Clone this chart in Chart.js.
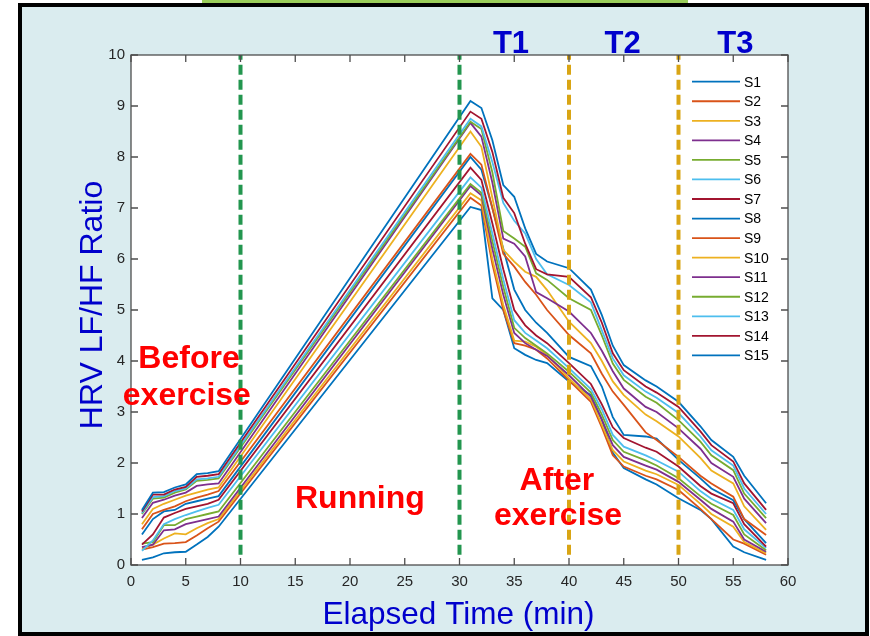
<!DOCTYPE html>
<html>
<head>
<meta charset="utf-8">
<script src="https://cdn.jsdelivr.net/npm/chart.js@4.4.1/dist/chart.umd.min.js"></script>
<style>
  html, body { margin: 0; padding: 0; background: #fff; }
  #wrap { position: relative; width: 870px; height: 636px; overflow: hidden; }
  #bar { position: absolute; left: 202px; top: 0; width: 486px; height: 3px; background: #9acd5a; }
  #frame { position: absolute; left: 18px; top: 3px; width: 851px; height: 633px; box-sizing: border-box;
           border: 4px solid #000; background: #daecef; }
  canvas { position: absolute; left: 0; top: 0; }
</style>
</head>
<body>
<div id="wrap">
  <div id="bar"></div>
  <div id="frame"></div>
  <canvas id="hrv" width="870" height="636"></canvas>
</div>
<script>
// elapsed minutes where each subject was sampled
const minutes = [1, 2, 3, 4, 5, 6, 7, 8,
  31, 32, 33, 34, 35, 36, 37, 38, 40, 42, 43, 44, 45, 47, 48, 50, 52, 53, 55, 56, 58];

// LF/HF ratio per subject
const S1  = [0.10, 0.15, 0.23, 0.25, 0.26, 0.40, 0.55, 0.75,
  7.02, 6.96, 5.23, 5.00, 4.25, 4.12, 4.02, 3.96, 3.60, 3.33, 2.85, 2.20, 1.90, 1.68, 1.58, 1.31, 1.08, 0.90, 0.36, 0.25, 0.10];
const S2  = [0.30, 0.35, 0.42, 0.43, 0.45, 0.58, 0.72, 0.85,
  7.20, 7.05, 5.90, 5.00, 4.35, 4.30, 4.22, 4.05, 3.62, 3.20, 2.70, 2.15, 1.93, 1.75, 1.68, 1.47, 1.10, 0.90, 0.50, 0.42, 0.20];
const S3  = [0.32, 0.40, 0.52, 0.62, 0.60, 0.72, 0.82, 0.90,
  7.29, 7.15, 6.00, 5.10, 4.40, 4.38, 4.28, 4.12, 3.66, 3.25, 2.75, 2.25, 2.03, 1.85, 1.78, 1.57, 1.20, 1.00, 0.75, 0.45, 0.23];
const S4  = [0.35, 0.40, 0.68, 0.70, 0.80, 0.85, 0.90, 0.95,
  7.43, 7.25, 6.20, 5.30, 4.55, 4.35, 4.22, 4.10, 3.72, 3.30, 2.85, 2.35, 2.12, 1.95, 1.87, 1.63, 1.28, 1.10, 0.85, 0.50, 0.26];
const S5  = [0.42, 0.45, 0.78, 0.78, 0.90, 0.95, 1.00, 1.05,
  7.47, 7.30, 6.35, 5.45, 4.65, 4.45, 4.30, 4.15, 3.79, 3.38, 2.95, 2.45, 2.22, 2.05, 1.95, 1.70, 1.35, 1.20, 0.98, 0.60, 0.29];
const S6  = [0.28, 0.48, 0.80, 0.90, 0.98, 1.05, 1.12, 1.18,
  7.60, 7.40, 6.50, 5.60, 4.80, 4.55, 4.40, 4.25, 3.86, 3.45, 3.05, 2.55, 2.32, 2.15, 2.05, 1.83, 1.45, 1.30, 1.08, 0.70, 0.33];
const S7  = [0.40, 0.60, 0.93, 1.02, 1.10, 1.15, 1.20, 1.28,
  7.79, 7.55, 6.70, 5.80, 5.00, 4.70, 4.50, 4.35, 3.96, 3.55, 3.15, 2.70, 2.49, 2.30, 2.22, 1.93, 1.55, 1.40, 1.21, 0.80, 0.36];
const S8  = [0.60, 0.90, 1.05, 1.08, 1.20, 1.25, 1.30, 1.35,
  8.00, 7.75, 7.00, 6.20, 5.40, 5.00, 4.75, 4.55, 4.08, 3.90, 3.50, 2.90, 2.55, 2.52, 2.48, 2.06, 1.70, 1.50, 1.27, 0.90, 0.43];
const S9  = [0.70, 1.00, 1.08, 1.15, 1.25, 1.32, 1.38, 1.45,
  8.06, 7.85, 7.00, 6.10, 5.85, 5.55, 5.30, 5.00, 4.51, 4.15, 3.75, 3.40, 3.14, 2.60, 2.45, 2.12, 1.75, 1.60, 1.34, 0.90, 0.59];
const S10 = [0.80, 1.10, 1.20, 1.28, 1.36, 1.42, 1.48, 1.52,
  8.50, 8.20, 7.20, 6.18, 5.95, 5.75, 5.65, 5.39, 4.77, 4.35, 4.00, 3.60, 3.33, 2.95, 2.82, 2.52, 2.10, 1.85, 1.60, 1.15, 0.69];
const S11 = [0.92, 1.22, 1.28, 1.36, 1.42, 1.55, 1.58, 1.60,
  8.67, 8.40, 7.50, 6.40, 6.30, 6.05, 5.35, 5.23, 4.97, 4.55, 4.20, 3.80, 3.46, 3.10, 3.00, 2.68, 2.28, 2.00, 1.73, 1.30, 0.82];
const S12 = [1.00, 1.30, 1.32, 1.42, 1.48, 1.65, 1.67, 1.70,
  8.69, 8.55, 7.70, 6.55, 6.40, 6.24, 5.72, 5.59, 5.23, 5.00, 4.50, 3.95, 3.63, 3.30, 3.18, 2.84, 2.42, 2.15, 1.86, 1.40, 0.92];
const S13 = [1.02, 1.33, 1.35, 1.45, 1.50, 1.68, 1.70, 1.73,
  8.75, 8.60, 7.90, 7.10, 6.75, 6.50, 6.00, 5.70, 5.49, 5.15, 4.60, 4.05, 3.72, 3.40, 3.28, 2.98, 2.52, 2.25, 1.95, 1.50, 1.00];
const S14 = [1.05, 1.38, 1.38, 1.48, 1.53, 1.73, 1.75, 1.78,
  8.89, 8.75, 8.10, 7.20, 6.90, 6.30, 5.80, 5.70, 5.65, 5.25, 4.75, 4.15, 3.82, 3.50, 3.38, 3.10, 2.62, 2.35, 2.03, 1.60, 1.08];
const S15 = [1.08, 1.42, 1.43, 1.52, 1.58, 1.78, 1.80, 1.84,
  9.10, 8.96, 8.33, 7.45, 7.22, 6.60, 6.10, 5.95, 5.82, 5.40, 4.90, 4.30, 3.92, 3.62, 3.50, 3.20, 2.72, 2.45, 2.12, 1.75, 1.21];

const subjects = [S1, S2, S3, S4, S5, S6, S7, S8, S9, S10, S11, S12, S13, S14, S15];
const subjectNames = subjects.map((_, i) => "S" + (i + 1));

// phase boundaries (min)
const phaseLines = [10, 30];
const testLines = [40, 50];

const xTicks = [0, 60, 5];
const yTicks = [0, 10, 1];

const palette = ["#0072bd", "#d95319", "#edb120", "#7e2f8e", "#77ac30", "#4dbeee", "#a2142f"];
const FONT = "'Liberation Sans', Arial, sans-serif";

// text notes, anchored in data units
const phaseNotes = [
  { text: "Before", x: 5.3, y: 3.86 },
  { text: "exercise", x: 5.1, y: 3.14 },
  { text: "Running", x: 20.9, y: 1.12 },
  { text: "After", x: 38.9, y: 1.48 },
  { text: "exercise", x: 39.0, y: 0.79 }
];
const testNotes = [
  { text: "T1", x: 34.7, y: 10.04 },
  { text: "T2", x: 44.9, y: 10.04 },
  { text: "T3", x: 55.2, y: 10.04 }
];

const datasets = [];
phaseLines.concat(testLines).forEach(v => {
  datasets.push({
    data: [{ x: v, y: 0.2 }, { x: v, y: 10 }],
    borderColor: phaseLines.includes(v) ? "#23964f" : "#d9a514",
    borderWidth: 4,
    borderDash: [10, 5],
    pointRadius: 0,
    order: 0
  });
});
subjects.forEach((vals, i) => {
  datasets.push({
    label: subjectNames[i],
    data: vals.map((v, k) => ({ x: minutes[k], y: v })),
    borderColor: palette[i % palette.length],
    borderWidth: 1.8,
    pointRadius: 0,
    tension: 0,
    order: 15 - i
  });
});

const decor = {
  id: "decor",
  beforeDraw(chart) {
    const { ctx, chartArea: a } = chart;
    ctx.save();
    ctx.fillStyle = "#fff";
    ctx.fillRect(a.left, a.top, a.right - a.left, a.bottom - a.top);
    ctx.restore();
  },
  afterDraw(chart) {
    const { ctx, chartArea: a, scales: { x, y } } = chart;
    ctx.save();

    // axes box + inward ticks
    ctx.strokeStyle = "#4d4d4d";
    ctx.lineWidth = 1.3;
    ctx.strokeRect(a.left, a.top, a.right - a.left, a.bottom - a.top);
    ctx.beginPath();
    x.ticks.forEach(t => {
      const p = x.getPixelForValue(t.value);
      ctx.moveTo(p, a.bottom); ctx.lineTo(p, a.bottom - 7);
      ctx.moveTo(p, a.top); ctx.lineTo(p, a.top + 7);
    });
    y.ticks.forEach(t => {
      const p = y.getPixelForValue(t.value);
      ctx.moveTo(a.left, p); ctx.lineTo(a.left + 7, p);
      ctx.moveTo(a.right, p); ctx.lineTo(a.right - 7, p);
    });
    ctx.stroke();

    // legend
    ctx.font = "14px " + FONT;
    ctx.textBaseline = "middle";
    ctx.textAlign = "left";
    subjectNames.forEach((name, i) => {
      const ly = a.top + 26.7 + i * 19.55;
      ctx.strokeStyle = palette[i % palette.length];
      ctx.lineWidth = 1.8;
      ctx.beginPath();
      ctx.moveTo(a.right - 96, ly);
      ctx.lineTo(a.right - 48, ly);
      ctx.stroke();
      ctx.fillStyle = "#000";
      ctx.fillText(name, a.right - 44, ly + 1);
    });

    // phase notes
    ctx.textAlign = "center";
    ctx.textBaseline = "alphabetic";
    ctx.font = "bold 32px " + FONT;
    ctx.fillStyle = "#ff0000";
    phaseNotes.forEach(n => ctx.fillText(n.text, x.getPixelForValue(n.x), y.getPixelForValue(n.y)));
    ctx.font = "bold 31px " + FONT;
    ctx.fillStyle = "#0000cc";
    testNotes.forEach(n => ctx.fillText(n.text, x.getPixelForValue(n.x), y.getPixelForValue(n.y)));

    // axis titles
    ctx.fillStyle = "#0000cc";
    ctx.font = "31.5px " + FONT;
    ctx.fillText("Elapsed Time (min)", (a.left + a.right) / 2 - 1, 624);
    ctx.font = "32px " + FONT;
    ctx.translate(102, (a.top + a.bottom) / 2 - 5);
    ctx.rotate(-Math.PI / 2);
    ctx.fillText("HRV LF/HF Ratio", 0, 0);

    ctx.restore();
  }
};

const tickFont = { family: FONT, size: 15 };

new Chart(document.getElementById("hrv"), {
  type: "line",
  data: { datasets },
  options: {
    responsive: false,
    animation: false,
    devicePixelRatio: 1,
    layout: { padding: { left: 91, top: 55, right: 82, bottom: 31 } },
    plugins: { legend: { display: false }, tooltip: { enabled: false } },
    scales: {
      x: {
        type: "linear",
        min: xTicks[0], max: xTicks[1],
        ticks: { stepSize: xTicks[2], color: "#262626", font: tickFont, padding: 8, maxRotation: 0 },
        grid: { display: false, drawTicks: false },
        border: { display: false },
        afterFit(s) { s.height = 40; }
      },
      y: {
        min: yTicks[0], max: yTicks[1],
        ticks: { stepSize: yTicks[2], color: "#262626", font: tickFont, padding: 6 },
        grid: { display: false, drawTicks: false },
        border: { display: false },
        afterFit(s) { s.width = 40; }
      }
    }
  },
  plugins: [decor]
});
</script>
</body>
</html>
